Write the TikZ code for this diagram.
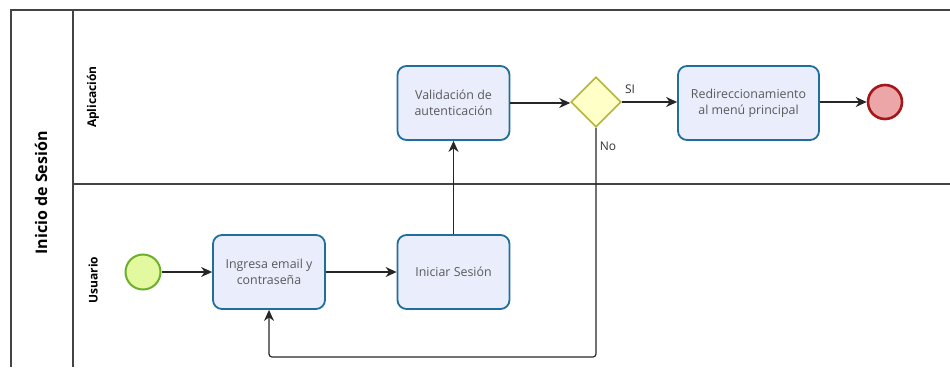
\documentclass[tikz,border=0pt]{standalone}
\usepackage{fontspec}
\setmainfont{Open Sans}
\usetikzlibrary{arrows.meta,shapes.geometric}
\definecolor{poolline}{HTML}{444444}
\definecolor{taskfill}{HTML}{EAEEFC}
\definecolor{taskline}{HTML}{1F6E9C}
\definecolor{tasktext}{HTML}{5A5A5A}
\definecolor{startfill}{HTML}{E3F9A0}
\definecolor{startline}{HTML}{6BAF2A}
\definecolor{endfill}{HTML}{EDA6A8}
\definecolor{endline}{HTML}{A3161B}
\definecolor{gwfill}{HTML}{FFFFC8}
\definecolor{gwline}{HTML}{B5B53A}
\tikzset{
  poolborder/.style={draw=poolline, line width=1.1pt},
  task/.style={draw=taskline, fill=taskfill, line width=1.8pt, rounded corners=9pt,
    minimum width=112pt, minimum height=74pt, align=center, text=tasktext,
    font=\fontsize{12.4}{16}\selectfont, inner sep=2pt},
  startev/.style={circle, draw=startline, fill=startfill, line width=2pt, minimum size=35pt, inner sep=0pt},
  endev/.style={circle, draw=endline, fill=endfill, line width=2.6pt, minimum size=34pt, inner sep=0pt},
  gateway/.style={diamond, draw=gwline, fill=gwfill, line width=1.6pt, minimum width=50pt, minimum height=50pt, inner sep=0pt},
  flow/.style={draw=black!85, line width=1.2pt, -{Stealth[length=11pt,width=10pt,inset=3.5pt]}},
  flowlabel/.style={font=\fontsize{12}{14}\selectfont, text=black!80, inner sep=1pt},
  lanelabel/.style={rotate=90, font=\bfseries\fontsize{12}{14}\selectfont},
  poollabel/.style={rotate=90, font=\bfseries\fontsize{16}{18}\selectfont}
}
\begin{document}
\begin{tikzpicture}[x=1pt,y=-1pt]
\useasboundingbox (0,0) rectangle (950,367);
% pool and lanes
\draw[poolborder] (950,10) -- (11,10) -- (11,367);
\draw[poolborder] (73,10) -- (73,367);
\draw[poolborder] (73,184) -- (950,184);
\node[poollabel] (pool) at (41,193) {Inicio de Sesión};
\node[lanelabel] (laneA) at (93,97) {Aplicación};
\node[lanelabel] (laneU) at (93,280) {Usuario};
% flow elements
\node[startev] (start) at (143,272) {};
\node[task] (ingresa) at (269,272) {Ingresa email y\\contraseña};
\node[task] (iniciar) at (453.5,272) {Iniciar Sesión};
\node[task] (valida) at (453.5,103) {Validación de\\autenticación};
\node[gateway] (gw) at (596,102) {};
\node[task, minimum width=141pt] (redir) at (748.5,103) {Redireccionamiento\\al menú principal};
\node[endev] (fin) at (885,102) {};
\coordinate (loopR) at (596,357);
\coordinate (loopL) at (269,357);
% sequence flows
\draw[flow] (start) -- (ingresa);
\draw[flow] (ingresa) -- (iniciar);
\draw[flow] (iniciar) -- (valida);
\draw[flow] (valida.east) -- (gw.west |- valida.east);
\draw[flow] (gw.east) -- (redir.west |- gw.east);
\draw[flow] (redir.east |- fin) -- (fin);
\draw[flow, rounded corners=3pt] (gw.south) -- (loopR) -- (loopL) -- (ingresa.south);
\node[flowlabel] (si) at (630,89) {SI};
\node[flowlabel] (no) at (608,146) {No};
\end{tikzpicture}
\end{document}
